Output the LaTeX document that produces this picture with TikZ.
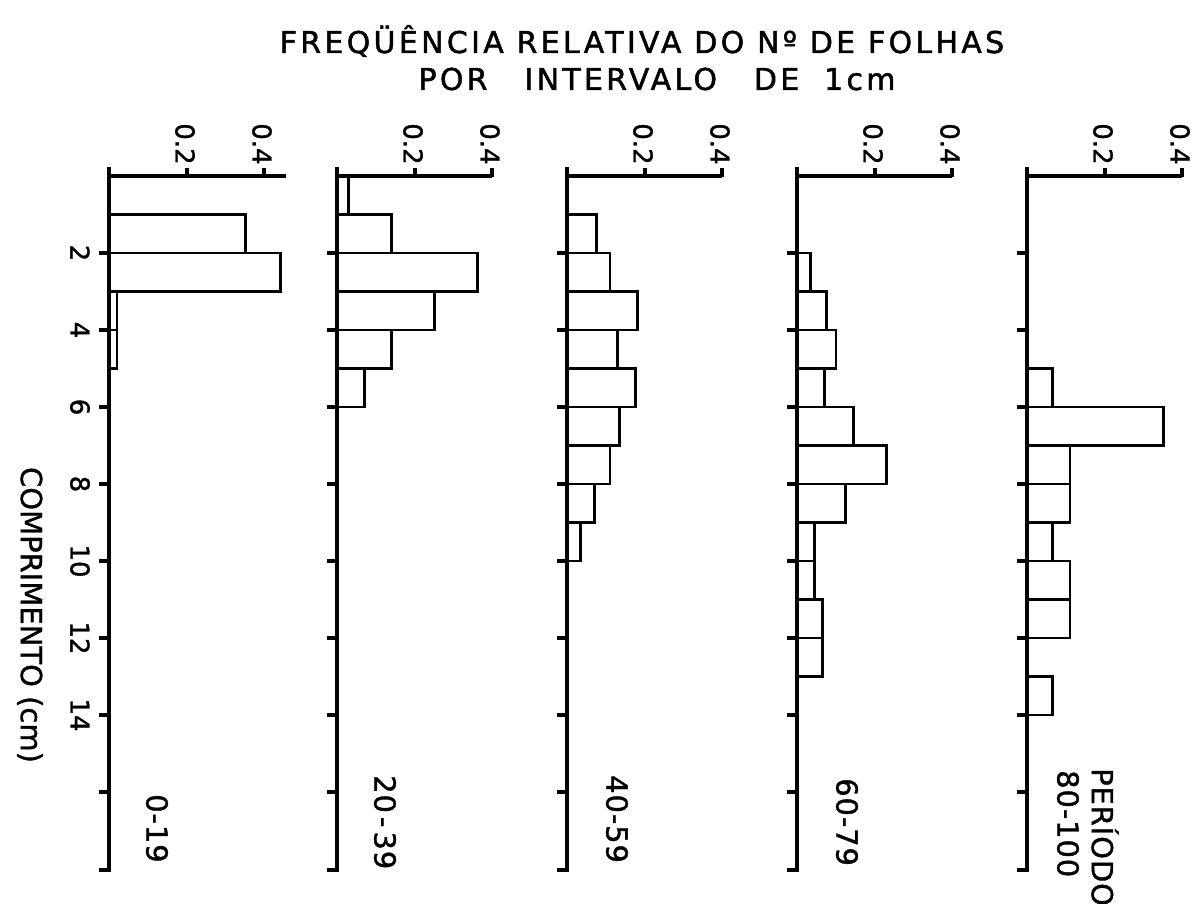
\documentclass[tikz,border=0pt]{standalone}
\usepackage{fontspec}
\setmainfont[FakeBold=1.2]{DejaVu Sans}
\newfontfamily\titlefont[LetterSpace=11,FakeBold=1.5]{DejaVu Sans}
\newfontfamily\labfont[FakeBold=1.2]{DejaVu Sans}
\newfontfamily\perfont[LetterSpace=3,WordSpace=0.4,FakeBold=1.2]{DejaVu Sans}
\begin{document}
\begin{tikzpicture}[x=1pt,y=-1pt,
  axisline/.style={line width=3.2pt, line cap=butt},
  barline/.style={line width=2.6pt, line join=miter},
  ticklbl/.style={rotate=-90, inner sep=0pt, font=\fontsize{26}{26}\selectfont},
  panellbl/.style={rotate=-90, inner sep=0pt, anchor=west, font=\perfont\fontsize{29}{29}\selectfont},
  titlelbl/.style={inner sep=0pt, font=\titlefont\fontsize{30}{30}\selectfont}
]
\useasboundingbox (0,0) rectangle (1204,904);

% titles
\node[titlelbl] (title1) at (642,41) {FREQÜÊNCIA RELATIVA DO Nº DE FOLHAS};
\node[titlelbl] (title2) at (657,79) {POR\hspace{24pt} INTERVALO\hspace{24pt} DE\hspace{12pt} 1cm};

% axis label
\node[rotate=-90, inner sep=0pt, font=\labfont\fontsize{29}{29}\selectfont] (ylabel) at (30,615) {COMPRIMENTO (cm)};

% length labels
\foreach \L in {2,4,...,14}{
  \node[ticklbl] (len\L) at (80,{176+38.5*\L}) {\L};
}

% panels: axes and ticks
\foreach \i/\xo/\topend in {1/109/177, 2/337/155, 3/567/155, 4/797/155, 5/1027/155}{
  \begin{scope}[shift={(\xo,0)}]
    \coordinate (axtop\i) at (0,167);
    \coordinate (axbot\i) at (0,870);
    \coordinate (axfoot\i) at (-10,870);
    \coordinate (frq0\i) at (0,176);
    \coordinate (frqend\i) at (\topend,176);
    \draw[axisline] (axtop\i) -- (axbot\i) -- (axfoot\i);
    \draw[axisline] (frq0\i) -- (frqend\i);
    \foreach \t in {78,155}{\draw[axisline] (\t,177) -- (\t,168);}
    \foreach \L in {2,4,...,16}{\draw[axisline] (0,{176+38.5*\L}) -- ++(-10,0);}
    \node[ticklbl] (lbltwo\i) at (76,144) {0.2};
    \node[ticklbl] (lblfour\i) at (153,144) {0.4};
  \end{scope}
}

% bars
\begin{scope}[shift={(109,0)}]
  \foreach \b/\v in {1/0.35, 2/0.44, 3/0.02, 4/0.02}
    {\draw[barline] (0,{176+38.5*\b}) rectangle ({390*\v},{176+38.5*(\b+1)});}
\end{scope}
\begin{scope}[shift={(337,0)}]
  \foreach \b/\v in {0/0.03, 1/0.14, 2/0.36, 3/0.25, 4/0.14, 5/0.07}
    {\draw[barline] (0,{176+38.5*\b}) rectangle ({390*\v},{176+38.5*(\b+1)});}
\end{scope}
\begin{scope}[shift={(567,0)}]
  \foreach \b/\v in {1/0.075, 2/0.11, 3/0.18, 4/0.13, 5/0.175, 6/0.135, 7/0.11, 8/0.07, 9/0.035}
    {\draw[barline] (0,{176+38.5*\b}) rectangle ({390*\v},{176+38.5*(\b+1)});}
\end{scope}
\begin{scope}[shift={(797,0)}]
  \foreach \b/\v in {2/0.035, 3/0.075, 4/0.10, 5/0.07, 6/0.145, 7/0.23, 8/0.125, 9/0.045, 10/0.045, 11/0.065, 12/0.065}
    {\draw[barline] (0,{176+38.5*\b}) rectangle ({390*\v},{176+38.5*(\b+1)});}
\end{scope}
\begin{scope}[shift={(1027,0)}]
  \foreach \b/\v in {5/0.065, 6/0.35, 7/0.11, 8/0.11, 9/0.065, 10/0.11, 11/0.11, 13/0.065}
    {\draw[barline] (0,{176+38.5*\b}) rectangle ({390*\v},{176+38.5*(\b+1)});}
\end{scope}

% period labels
\node[panellbl] (per1) at (157,794) {0-19};
\node[panellbl] (per2) at (385,775) {20 - 39};
\node[panellbl] (per3) at (617,775) {40-59};
\node[panellbl] (per4) at (847,778) {60-79};
\node[panellbl] (per5) at (1068,770) {80-100};
\node[panellbl] (periodo) at (1105,768) {PERÍODO};
\end{tikzpicture}
\end{document}
